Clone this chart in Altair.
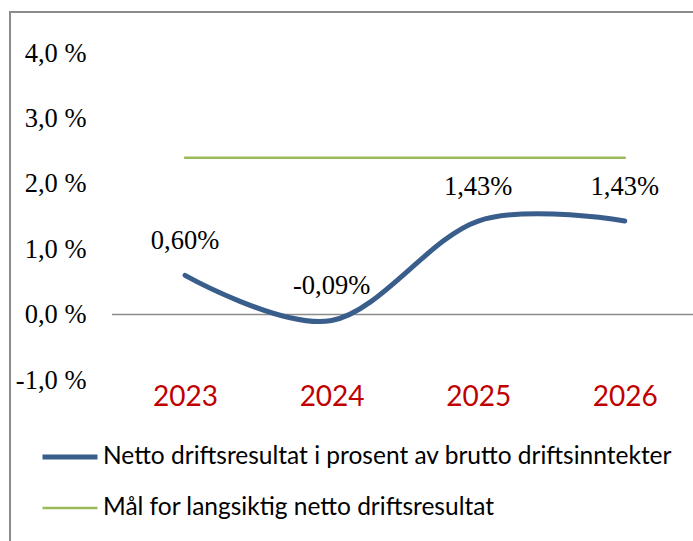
import altair as alt
import pandas as pd

years = ["2023", "2024", "2025", "2026"]
netto = [0.60, -0.09, 1.43, 1.43]
maal = [2.4, 2.4, 2.4, 2.4]
series_names = ["Netto driftsresultat i prosent av brutto driftsinntekter",
                "Mål for langsiktig netto driftsresultat"]
label_texts = ["0,60%", "-0,09%", "1,43%", "1,43%"]
y_ticks = [-1, 0, 1, 2, 3, 4]

rows = []
for y, v in zip(years, netto):
    rows.append({"year": y, "value": v, "series": series_names[0]})
for y, v in zip(years, maal):
    rows.append({"year": y, "value": v, "series": series_names[1]})
df = pd.DataFrame(rows)
lab = pd.DataFrame({"year": years, "value": netto, "label": label_texts})

BLUE = "#3A5E8C"
GREEN = "#9BBB59"

xscale = alt.Scale(type="point", padding=0.482, align=0.517)
yscale = alt.Scale(domain=[-1, 4], nice=False, zero=False)

x_enc = alt.X("year:O", scale=xscale, sort=years,
              axis=alt.Axis(title=None, labelAngle=0, ticks=False, domain=False, grid=False,
                            labelColor="#C00000", labelFont="Lato", labelFontSize=28,
                            labelPadding=3))
y_axis = alt.Axis(title=None, values=y_ticks, ticks=False, domain=False, grid=False,
                  labelFont="Liberation Serif", labelFontSize=26.5, labelColor="#000000",
                  labelPadding=26,
                  labelExpr="(datum.value < 0 ? '-' : '') + replace(format(abs(datum.value), '.1f'), '.', ',') + ' %'")

border = alt.Chart(lab).mark_rect(filled=False, stroke="#8c8c8c", strokeWidth=2).encode(
    x=alt.value(-102), y=alt.value(-41), x2=alt.value(700), y2=alt.value(500)
)

zero = alt.Chart(pd.DataFrame({"value": [0]})).mark_rule(color="#8c8c8c", strokeWidth=1.5).encode(
    y=alt.Y("value:Q", scale=yscale, axis=y_axis)
)

legend_common = dict(orient="none", legendX=-72, legendY=374, title=None,
                     symbolType="stroke", symbolSize=3025, labelFont="Lato",
                     labelFontSize=24.5, labelColor="#000000", labelOffset=3,
                     rowPadding=10, labelLimit=700)

lines = alt.Chart(df).mark_line(interpolate="cardinal", strokeCap="round").encode(
    x=x_enc,
    y=alt.Y("value:Q", scale=yscale, axis=y_axis),
    color=alt.Color("series:N", sort=series_names,
                    scale=alt.Scale(domain=series_names, range=[BLUE, GREEN]),
                    legend=alt.Legend(**legend_common)),
    strokeWidth=alt.StrokeWidth("series:N", sort=series_names,
                                scale=alt.Scale(domain=series_names, range=[5, 2.5]),
                                legend=alt.Legend(**legend_common)),
)

texts = alt.Chart(lab).mark_text(dy=-34, font="Liberation Serif", fontSize=26.5, color="#000000").encode(
    x=alt.X("year:O", scale=xscale, sort=years),
    y=alt.Y("value:Q", scale=yscale, axis=y_axis),
    text="label:N",
)

chart = alt.layer(border, zero, lines, texts).properties(
    width=581, height=327,
    background="white",
    autosize=alt.AutoSizeParams(type="none"),
    padding={"left": 112, "top": 53, "right": 0, "bottom": 161},
).configure_view(strokeWidth=0, stroke=None)

chart.save("out.html", embed_options={"renderer": "svg", "actions": False})
